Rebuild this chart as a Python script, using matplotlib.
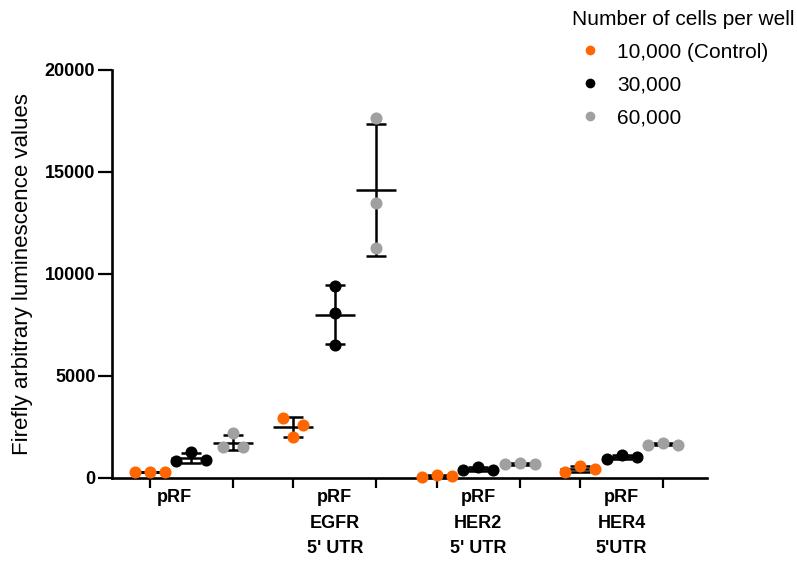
import numpy as np
import matplotlib
matplotlib.use("Agg")
import matplotlib.pyplot as plt
from matplotlib.lines import Line2D
import matplotlib.transforms as mtransforms

plt.rcParams['font.family'] = ['Liberation Sans', 'DejaVu Sans']

# ---- data -------------------------------------------------------------
groups = ["pRF", "pRF\nEGFR\n5' UTR", "pRF\nHER2\n5' UTR", "pRF\nHER4\n5'UTR"]
series_labels = ["10,000 (Control)", "30,000", "60,000"]
legend_title = "Number of cells per well"
y_label = "Firefly arbitrary luminescence values"
y_ticks = [0, 5000, 10000, 15000, 20000]

# three replicate wells per construct and seeding density
cells_10k = [[280, 300, 290], [2960, 1990, 2600], [65, 150, 115], [280, 590, 425]]
cells_30k = [[830, 1260, 880], [9430, 8070, 6520], [390, 555, 390], [915, 1125, 1045]]
cells_60k = [[1500, 2190, 1530], [17650, 13480, 11270], [670, 720, 670], [1620, 1700, 1620]]

series = [cells_10k, cells_30k, cells_60k]
colors = ["#FF6600", "#000000", "#A0A0A0"]

# ---- layout -----------------------------------------------------------
group_step = 3.45      # distance between construct groups (in column units)
mean_half = 0.48       # half width of the mean line
cap_half = 0.24        # half width of the SD caps


def spread(values):
    """Horizontal scatter offsets so overlapping replicates stay visible."""
    rng = max(values) - min(values)
    if rng < 600:
        w = 0.36
    elif rng < 1200:
        w = 0.24
    else:
        w = 0.0
    return np.array([-w, 0.0, w])


fig = plt.figure(figsize=(7.97, 5.62), dpi=100)
ax = fig.add_axes([112 / 797, 1 - 478 / 562, 595 / 797, 408 / 562])

col_positions = []
for g in range(len(groups)):
    for s, (vals, c) in enumerate(zip(series, colors)):
        x0 = g * group_step + (s - 1)
        col_positions.append(x0)
        v = np.array(vals[g], dtype=float)
        m = v.mean()
        sd = v.std(ddof=1)
        lk = dict(color="black", lw=1.8, solid_capstyle="butt", zorder=2, clip_on=False)
        ax.plot([x0 - mean_half, x0 + mean_half], [m, m], **lk)
        ax.plot([x0, x0], [m - sd, m + sd], **lk)
        ax.plot([x0 - cap_half, x0 + cap_half], [m + sd, m + sd], **lk)
        ax.plot([x0 - cap_half, x0 + cap_half], [m - sd, m - sd], **lk)
        ax.plot(x0 + spread(v), v, "o", color=c, markersize=8.7,
                markeredgewidth=0, zorder=3, clip_on=False)

ax.set_xlim(-1.911, 3 * group_step + 1 + 1.055)
ax.set_ylim(0, 20000)

for side in ("top", "right"):
    ax.spines[side].set_visible(False)
for side in ("left", "bottom"):
    ax.spines[side].set_linewidth(1.9)

ax.set_yticks(y_ticks)
ax.set_yticklabels([str(t) for t in y_ticks], fontsize=13, fontweight="bold")
ax.tick_params(axis="y", direction="out", length=10, width=1.6, pad=2)

group_centers = [g * group_step for g in range(len(groups))]
ax.set_xticks(col_positions, minor=True)
ax.set_xticks(group_centers)
ax.set_xticklabels(groups, fontsize=13, fontweight="bold", linespacing=1.65)
ax.tick_params(axis="x", which="minor", direction="out", length=7, width=1.6)
ax.tick_params(axis="x", which="major", length=0, pad=8)
first = ax.get_xticklabels()[0]
first.set_transform(first.get_transform() +
                    mtransforms.ScaledTranslation(-17 / 100, 0, fig.dpi_scale_trans))

ax.set_ylabel(y_label, fontsize=16)
ax.yaxis.set_label_coords(-0.132, 0.5)

handles = [Line2D([], [], marker="o", ls="none", color=c, markersize=7,
                  markeredgewidth=0) for c in colors]
fig.legend(handles, series_labels, title=legend_title, loc="upper left",
           bbox_to_anchor=(572 / 797, 1 - 10 / 562), frameon=False,
           fontsize=15, title_fontsize=15, alignment="left",
           handlelength=1.73, handletextpad=0.43, labelspacing=0.66,
           borderpad=0, borderaxespad=0)

fig.savefig("out.png", dpi=100)
